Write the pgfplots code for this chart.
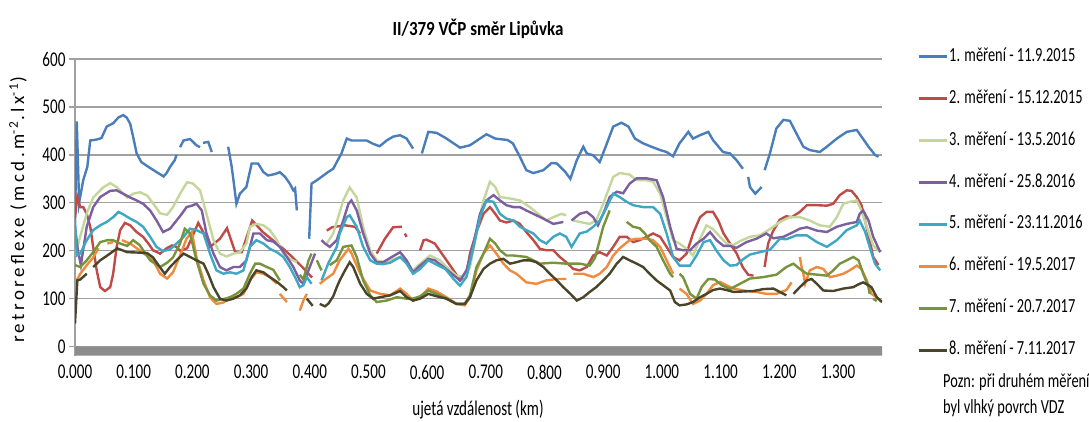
\documentclass[border=0pt]{standalone}
\usepackage{fontspec}
\setmainfont{Carlito}
\newfontfamily\cond[FakeStretch=0.72]{Carlito}
\newfontfamily\spaced[LetterSpace=18]{Carlito}
\newfontfamily\titlefont[FakeStretch=0.85]{Carlito}
\usepackage{pgfplots}
\pgfplotsset{compat=1.18}
\definecolor{cA}{HTML}{4A7EBB}
\definecolor{cB}{HTML}{BE4B48}
\definecolor{cC}{HTML}{C3D69B}
\definecolor{cD}{HTML}{7D5FA0}
\definecolor{cE}{HTML}{3DA7C4}
\definecolor{cF}{HTML}{F08A3C}
\definecolor{cG}{HTML}{77933C}
\definecolor{cH}{HTML}{4A452A}
\definecolor{gridgray}{HTML}{A0A0A0}
\definecolor{bandgray}{HTML}{8C8C8C}
\begin{document}
\begin{tikzpicture}[x=1pt,y=1pt]
\useasboundingbox (0,0) rectangle (1089,421);
\begin{axis}[
  at={(75pt,65.3pt)}, anchor=south west,
  scale only axis, width=807pt, height=296.7pt,
  xmin=0, xmax=1.375, ymin=-19, ymax=600,
  xtick={0,0.1,0.2,0.3,0.4,0.5,0.6,0.7,0.8,0.9,1.0,1.1,1.2,1.3},
  ytick={0,100,200,300,400,500,600},
  axis x line*=bottom, axis y line*=left,
  x axis line style={draw=none},
  y axis line style={color=gridgray, line width=1.3pt, -},
  xtick style={draw=none},
  ytick style={color=gridgray, line width=1.3pt},
  tick align=outside, major tick length=6pt,
  ymajorgrids, grid style={gridgray, line width=1.3pt},
  /pgf/number format/assume math mode=true,
  ticklabel style={font=\cond\fontsize{21}{21}\selectfont},
  xticklabel style={/pgf/number format/.cd, fixed, fixed zerofill, precision=3},
  yticklabel style={/pgf/number format/.cd, fixed, precision=0},
  unbounded coords=jump,
  every axis plot/.append style={line width=2.4pt},
  legend cell align=left,
  legend image code/.code={\draw[#1, line width=3pt] (0pt,0pt) -- (28pt,0pt);},
  legend style={at={(1.0434,1.04)}, anchor=north west, draw=none, fill=none,
    font=\cond\fontsize{20}{20}\selectfont, row sep=22.9pt, inner sep=0pt,
    nodes={inner sep=1pt, text height=13pt, text depth=4pt},
    /tikz/every odd column/.append style={column sep=0pt}},
]
\addplot[draw=none, fill=bandgray, forget plot] coordinates {(0,-19)(1.375,-19)(1.375,0)(0,0)(0,-19)};

% 1
\addplot[cA] coordinates {(0,260)(0.003,470)(0.007,300)(0.014,347)(0.021,375)(0.026,430)(0.037,432)(0.045,435)(0.054,459)(0.065,466)(0.074,478)(0.082,483)(0.088,478)(0.094,465)(0.099,438)(0.105,403)(0.113,385)(0.125,375)(0.139,364)(0.151,355)(0.156,362)(0.162,375)(0.170,389)(0.173,400)(0.176,nan)(0.179,416)(0.185,430)(0.196,433)(0.207,420)(0.213,416)(0.215,nan)(0.218,425)(0.227,427)(0.233,406)(0.245,nan)(0.261,417)(0.267,375)(0.270,347)(0.275,298)(0.281,319)(0.292,333)(0.301,382)(0.312,382)(0.321,364)(0.329,357)(0.341,360)(0.349,364)(0.358,354)(0.366,340)(0.372,326)(0.375,330)(0.378,284)(0.390,nan)(0.399,225)(0.403,340)(0.412,347)(0.420,354)(0.431,364)(0.440,371)(0.446,385)(0.454,403)(0.463,434)(0.471,430)(0.485,430)(0.497,430)(0.508,423)(0.519,418)(0.531,430)(0.542,438)(0.554,441)(0.565,434)(0.576,413)(0.584,nan)(0.591,403)(0.602,448)(0.616,446)(0.633,434)(0.656,415)(0.673,420)(0.690,434)(0.701,443)(0.716,434)(0.737,431)(0.746,424)(0.758,396)(0.769,368)(0.781,362)(0.798,368)(0.812,383)(0.821,382)(0.835,365)(0.844,350)(0.855,389)(0.866,417)(0.872,403)(0.883,399)(0.894,385)(0.906,423)(0.917,459)(0.931,467)(0.943,459)(0.954,434)(0.968,424)(0.982,417)(0.997,410)(1.008,406)(1.019,397)(1.030,424)(1.045,448)(1.053,434)(1.065,441)(1.079,448)(1.087,431)(1.104,406)(1.116,403)(1.127,389)(1.138,371)(1.143,nan)(1.147,354)(1.150,333)(1.159,319)(1.170,333)(1.172,nan)(1.175,368)(1.184,403)(1.195,455)(1.207,473)(1.218,471)(1.229,445)(1.241,417)(1.252,410)(1.269,406)(1.281,417)(1.298,434)(1.315,448)(1.332,452)(1.340,438)(1.352,417)(1.363,400)(1.369,396)};
\addlegendentry{1. měření - 11.9.2015}
% 2
\addplot[cB] coordinates {(0,270)(0.004,312)(0.009,291)(0.014,291)(0.020,277)(0.026,250)(0.031,208)(0.037,159)(0.043,124)(0.051,116)(0.060,124)(0.065,152)(0.071,208)(0.077,243)(0.085,258)(0.094,253)(0.105,239)(0.116,229)(0.125,215)(0.133,201)(0.145,194)(0.156,205)(0.165,211)(0.173,208)(0.179,200)(0.191,205)(0.210,258)(0.218,240)(0.230,208)(0.247,225)(0.259,247)(0.273,197)(0.284,197)(0.302,263)(0.320,239)(0.337,222)(0.354,205)(0.371,186)(0.388,165)(0.404,144)(0.415,nan)(0.429,242)(0.438,249)(0.460,253)(0.477,250)(0.486,236)(0.500,nan)(0.514,194)(0.528,225)(0.542,249)(0.557,250)(0.560,nan)(0.562,236)(0.565,229)(0.575,nan)(0.588,201)(0.594,222)(0.599,223)(0.613,215)(0.625,194)(0.633,180)(0.645,159)(0.656,138)(0.667,152)(0.673,194)(0.684,239)(0.696,277)(0.707,291)(0.716,277)(0.724,263)(0.735,259)(0.747,263)(0.758,256)(0.769,239)(0.781,222)(0.792,204)(0.803,201)(0.815,201)(0.826,187)(0.837,176)(0.849,162)(0.860,159)(0.872,166)(0.883,190)(0.894,197)(0.906,190)(0.917,208)(0.928,229)(0.940,229)(0.951,218)(0.962,222)(0.974,229)(0.985,236)(0.997,229)(1.008,208)(1.019,187)(1.030,180)(1.042,194)(1.053,236)(1.065,270)(1.076,281)(1.087,281)(1.096,263)(1.105,236)(1.116,215)(1.127,195)(1.138,165)(1.147,150)(1.156,148)(1.165,nan)(1.175,166)(1.181,215)(1.189,240)(1.201,265)(1.212,272)(1.221,270)(1.235,281)(1.247,295)(1.264,295)(1.281,294)(1.292,298)(1.303,316)(1.315,326)(1.323,325)(1.332,312)(1.340,295)(1.346,263)(1.354,222)(1.360,187)(1.369,170)};
\addlegendentry{2. měření - 15.12.2015}
% 3
\addplot[cC] coordinates {(0,190)(0.009,230)(0.020,278)(0.031,311)(0.048,332)(0.060,341)(0.072,332)(0.089,311)(0.099,319)(0.111,322)(0.123,315)(0.133,299)(0.145,278)(0.157,275)(0.167,291)(0.179,319)(0.191,343)(0.201,340)(0.213,326)(0.224,277)(0.236,222)(0.247,194)(0.258,188)(0.270,194)(0.281,197)(0.292,215)(0.298,250)(0.309,256)(0.321,253)(0.332,243)(0.344,222)(0.355,194)(0.366,183)(0.378,176)(0.400,nan)(0.429,215)(0.440,236)(0.457,305)(0.468,332)(0.480,311)(0.491,249)(0.503,201)(0.514,180)(0.531,175)(0.542,182)(0.554,187)(0.565,176)(0.576,159)(0.588,173)(0.605,190)(0.622,180)(0.633,166)(0.650,148)(0.664,145)(0.673,166)(0.684,236)(0.696,305)(0.707,344)(0.716,333)(0.724,312)(0.741,309)(0.758,305)(0.775,291)(0.792,274)(0.803,263)(0.815,270)(0.829,277)(0.837,274)(0.843,nan)(0.849,263)(0.860,260)(0.877,256)(0.888,263)(0.900,298)(0.917,354)(0.928,362)(0.945,359)(0.957,347)(0.974,347)(0.985,344)(0.997,319)(1.008,270)(1.019,222)(1.030,215)(1.042,204)(1.053,190)(1.065,225)(1.076,253)(1.087,245)(1.099,229)(1.110,215)(1.122,212)(1.133,220)(1.150,229)(1.167,232)(1.184,245)(1.201,260)(1.218,270)(1.235,270)(1.252,263)(1.269,253)(1.286,250)(1.298,270)(1.309,298)(1.320,302)(1.332,305)(1.340,284)(1.349,250)(1.360,211)(1.372,197)};
\addlegendentry{3. měření - 13.5.2016}
% 4
\addplot[cD] coordinates {(0,250)(0.005,200)(0.010,170)(0.020,250)(0.031,291)(0.043,312)(0.060,325)(0.071,326)(0.082,319)(0.094,311)(0.105,305)(0.116,298)(0.128,284)(0.139,263)(0.150,239)(0.162,246)(0.173,263)(0.182,277)(0.190,291)(0.199,294)(0.207,298)(0.216,284)(0.224,236)(0.236,194)(0.247,166)(0.258,159)(0.270,166)(0.281,166)(0.292,180)(0.304,236)(0.315,236)(0.327,222)(0.338,219)(0.349,208)(0.361,187)(0.372,166)(0.383,138)(0.389,131)(0.400,166)(0.409,194)(0.414,nan)(0.420,222)(0.426,215)(0.434,208)(0.446,222)(0.457,263)(0.466,298)(0.471,305)(0.480,284)(0.491,236)(0.503,194)(0.514,176)(0.525,176)(0.537,185)(0.554,197)(0.565,180)(0.576,155)(0.588,169)(0.602,183)(0.613,180)(0.628,166)(0.642,152)(0.656,138)(0.667,159)(0.679,215)(0.690,277)(0.701,305)(0.713,316)(0.724,305)(0.735,295)(0.747,291)(0.758,291)(0.769,284)(0.781,277)(0.798,267)(0.815,256)(0.832,260)(0.839,nan)(0.846,263)(0.860,277)(0.872,281)(0.883,270)(0.891,253)(0.900,277)(0.911,312)(0.923,323)(0.934,320)(0.945,340)(0.957,351)(0.974,351)(0.991,347)(1.002,312)(1.014,250)(1.025,204)(1.036,201)(1.048,201)(1.059,215)(1.071,225)(1.082,239)(1.093,222)(1.105,210)(1.116,210)(1.127,206)(1.144,218)(1.161,225)(1.178,236)(1.190,226)(1.207,229)(1.224,239)(1.235,246)(1.247,249)(1.264,242)(1.281,239)(1.298,250)(1.315,256)(1.332,260)(1.337,277)(1.343,284)(1.352,263)(1.360,229)(1.372,197)};
\addlegendentry{4. měření - 25.8.2016}
% 5
\addplot[cE] coordinates {(0,265)(0.003,190)(0.009,194)(0.020,222)(0.031,243)(0.043,253)(0.054,260)(0.065,270)(0.074,281)(0.082,276)(0.094,267)(0.105,260)(0.116,250)(0.128,229)(0.139,208)(0.150,199)(0.162,203)(0.173,215)(0.185,229)(0.196,246)(0.207,243)(0.219,236)(0.230,194)(0.241,159)(0.253,152)(0.264,155)(0.275,152)(0.287,159)(0.298,208)(0.309,222)(0.321,215)(0.332,204)(0.344,197)(0.355,187)(0.366,166)(0.375,145)(0.383,124)(0.389,128)(0.395,145)(0.403,131)(0.410,nan)(0.420,138)(0.432,175)(0.446,208)(0.451,236)(0.463,270)(0.468,274)(0.480,250)(0.491,208)(0.503,180)(0.514,173)(0.525,172)(0.537,175)(0.554,187)(0.565,173)(0.576,152)(0.588,162)(0.602,180)(0.616,171)(0.631,162)(0.645,141)(0.656,127)(0.667,145)(0.679,208)(0.690,270)(0.701,305)(0.713,302)(0.724,277)(0.735,267)(0.747,263)(0.758,250)(0.769,243)(0.781,236)(0.792,222)(0.803,215)(0.815,229)(0.826,236)(0.837,229)(0.846,208)(0.860,236)(0.872,240)(0.883,250)(0.894,263)(0.906,291)(0.917,319)(0.928,312)(0.940,302)(0.951,295)(0.968,291)(0.985,291)(0.997,277)(1.008,236)(1.019,187)(1.030,169)(1.048,169)(1.059,190)(1.071,218)(1.082,222)(1.093,200)(1.105,180)(1.116,169)(1.127,170)(1.138,182)(1.150,192)(1.167,197)(1.184,202)(1.201,225)(1.212,224)(1.229,232)(1.247,232)(1.264,218)(1.281,208)(1.298,222)(1.315,243)(1.332,253)(1.337,263)(1.346,240)(1.354,208)(1.363,173)(1.372,159)};
\addlegendentry{5. měření - 23.11.2016}
% 6
\addplot[cF] coordinates {(0,132)(0.009,152)(0.020,170)(0.031,186)(0.040,205)(0.047,nan)(0.055,215)(0.065,218)(0.072,nan)(0.080,222)(0.094,215)(0.110,201)(0.122,190)(0.133,180)(0.145,152)(0.157,142)(0.167,155)(0.179,190)(0.190,225)(0.199,239)(0.207,187)(0.219,138)(0.230,103)(0.241,89)(0.253,92)(0.264,103)(0.275,103)(0.287,110)(0.298,138)(0.309,155)(0.321,152)(0.332,145)(0.344,131)(0.346,nan)(0.349,110)(0.361,93)(0.370,nan)(0.383,75)(0.389,96)(0.395,110)(0.405,nan)(0.417,131)(0.426,140)(0.440,152)(0.451,180)(0.466,204)(0.471,195)(0.486,152)(0.503,117)(0.520,110)(0.537,107)(0.554,121)(0.565,110)(0.576,96)(0.588,103)(0.602,121)(0.616,115)(0.633,103)(0.650,89)(0.664,86)(0.673,103)(0.684,159)(0.696,194)(0.707,211)(0.718,194)(0.730,173)(0.741,159)(0.752,152)(0.769,134)(0.786,131)(0.803,138)(0.821,141)(0.837,141)(0.843,nan)(0.849,152)(0.866,152)(0.883,145)(0.894,152)(0.906,166)(0.917,190)(0.928,205)(0.945,222)(0.957,225)(0.974,225)(0.985,222)(0.997,208)(1.008,180)(1.019,152)(1.025,nan)(1.030,121)(1.042,110)(1.053,89)(1.065,96)(1.076,110)(1.087,128)(1.099,135)(1.110,128)(1.122,121)(1.144,116)(1.161,114)(1.178,110)(1.195,110)(1.212,118)(1.221,134)(1.228,nan)(1.235,187)(1.238,166)(1.241,152)(1.244,131)(1.252,159)(1.264,166)(1.275,162)(1.286,145)(1.298,148)(1.309,152)(1.320,159)(1.332,169)(1.340,162)(1.349,138)(1.357,110)(1.366,103)(1.375,93)};
\addlegendentry{6. měření - 19.5.2017}
% 7
\addplot[cG] coordinates {(0,170)(0.009,166)(0.020,180)(0.031,197)(0.043,218)(0.055,222)(0.065,222)(0.077,215)(0.089,210)(0.099,222)(0.110,212)(0.128,180)(0.145,166)(0.157,175)(0.167,186)(0.179,215)(0.187,246)(0.196,236)(0.207,180)(0.219,131)(0.230,107)(0.241,96)(0.253,99)(0.264,103)(0.275,110)(0.287,121)(0.298,152)(0.307,173)(0.315,173)(0.327,166)(0.338,160)(0.349,138)(0.365,nan)(0.383,150)(0.389,140)(0.398,180)(0.403,194)(0.407,nan)(0.412,180)(0.420,159)(0.427,nan)(0.434,170)(0.446,180)(0.457,208)(0.471,211)(0.480,187)(0.491,138)(0.503,107)(0.514,93)(0.531,96)(0.548,103)(0.565,100)(0.576,100)(0.588,105)(0.602,117)(0.616,110)(0.633,100)(0.650,89)(0.664,89)(0.673,107)(0.684,166)(0.696,194)(0.707,225)(0.716,215)(0.724,201)(0.735,190)(0.747,190)(0.769,187)(0.781,180)(0.792,173)(0.815,175)(0.837,173)(0.860,173)(0.877,169)(0.886,185)(0.891,208)(0.900,250)(0.911,284)(0.925,nan)(0.940,260)(0.951,250)(0.962,247)(0.971,236)(0.979,222)(0.991,208)(1.002,180)(1.014,152)(1.019,145)(1.025,nan)(1.030,152)(1.036,145)(1.048,110)(1.059,100)(1.068,125)(1.079,141)(1.090,140)(1.102,128)(1.116,120)(1.133,131)(1.150,142)(1.173,145)(1.195,150)(1.212,166)(1.224,173)(1.235,162)(1.247,152)(1.265,150)(1.281,148)(1.292,159)(1.303,173)(1.315,180)(1.326,187)(1.335,180)(1.343,152)(1.352,124)(1.354,110)(1.357,nan)(1.360,100)(1.366,95)};
\addlegendentry{7. měření - 20.7.2017}
% 8
\addplot[cH] coordinates {(0,48)(0.004,138)(0.009,140)(0.020,152)(0.025,nan)(0.031,166)(0.043,180)(0.055,190)(0.072,205)(0.089,197)(0.111,196)(0.123,195)(0.133,186)(0.145,165)(0.153,152)(0.162,166)(0.173,180)(0.185,194)(0.196,187)(0.207,180)(0.219,173)(0.227,152)(0.236,124)(0.247,100)(0.258,96)(0.270,100)(0.281,107)(0.292,121)(0.301,145)(0.309,159)(0.321,155)(0.332,145)(0.344,135)(0.355,124)(0.361,117)(0.375,nan)(0.395,100)(0.405,85)(0.412,nan)(0.417,89)(0.426,84)(0.432,90)(0.440,105)(0.446,124)(0.451,138)(0.460,159)(0.468,176)(0.474,166)(0.486,131)(0.497,110)(0.508,100)(0.520,103)(0.537,107)(0.554,116)(0.565,103)(0.576,96)(0.588,100)(0.602,110)(0.616,105)(0.633,100)(0.650,89)(0.664,89)(0.673,103)(0.684,138)(0.696,162)(0.707,173)(0.718,180)(0.730,183)(0.741,173)(0.752,176)(0.764,180)(0.775,180)(0.786,176)(0.798,166)(0.809,152)(0.821,138)(0.832,124)(0.844,110)(0.855,96)(0.866,103)(0.877,114)(0.888,124)(0.900,138)(0.911,152)(0.923,173)(0.934,187)(0.945,180)(0.957,173)(0.968,166)(0.979,152)(0.991,138)(1.002,128)(1.014,117)(1.022,93)(1.030,86)(1.042,88)(1.053,93)(1.065,103)(1.076,110)(1.087,118)(1.099,121)(1.110,118)(1.122,114)(1.139,115)(1.156,116)(1.173,120)(1.190,121)(1.201,114)(1.212,107)(1.218,nan)(1.224,110)(1.235,124)(1.247,138)(1.255,141)(1.264,131)(1.275,117)(1.292,116)(1.309,121)(1.326,124)(1.335,130)(1.343,134)(1.352,128)(1.357,124)(1.366,103)(1.375,93)};
\addlegendentry{8. měření - 7.11.2017}
\end{axis}
\node[font=\titlefont\bfseries\fontsize{20}{20}\selectfont, anchor=base] at (478,385) {II/379 VČP směr Lipůvka};
\node[font=\cond\fontsize{21}{21}\selectfont, anchor=base] at (478,6) {ujetá vzdálenost (km)};
\node[font=\spaced\fontsize{19}{19}\selectfont, rotate=90, anchor=center] at (18,211) {retroreflexe (mcd.m\textsuperscript{-2}.lx\textsuperscript{-1})};
\node[font=\cond\fontsize{20}{20}\selectfont, anchor=base west, inner sep=0pt] at (943,34) {Pozn: při druhém měření};
\node[font=\cond\fontsize{20}{20}\selectfont, anchor=base west, inner sep=0pt] at (943,8) {byl vlhký povrch VDZ};
\end{tikzpicture}
\end{document}
